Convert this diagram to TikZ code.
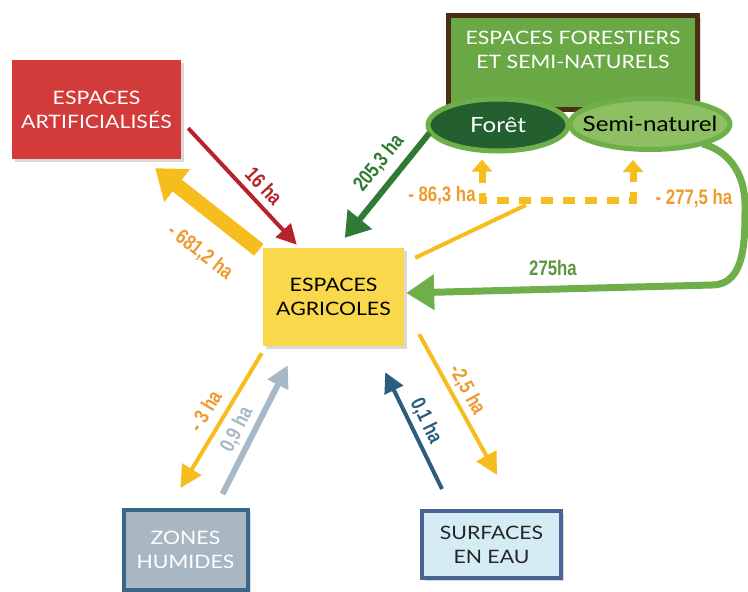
\documentclass[tikz,border=0pt]{standalone}
\usepackage{fontspec}
\setmainfont{Lato}
\newfontfamily\boxfont[FakeStretch=1.15]{Lato}
\newfontfamily\lblfont[FakeStretch=0.8]{Liberation Sans}
\usepackage{tikz}
\usetikzlibrary{positioning,arrows.meta,calc,shadows,shapes.geometric}

\definecolor{artred}{HTML}{D23B3A}
\definecolor{redflux}{HTML}{B8232B}
\definecolor{agriyellow}{HTML}{F9D84B}
\definecolor{yelflux}{HTML}{F5BD1E}
\definecolor{orangelbl}{HTML}{EE9A2E}
\definecolor{forgreen}{HTML}{69A844}
\definecolor{forbrown}{HTML}{4B2E14}
\definecolor{foretfill}{HTML}{245F30}
\definecolor{semifill}{HTML}{8EC063}
\definecolor{ringgreen}{HTML}{6EAF4A}
\definecolor{dkgreen}{HTML}{2F7A34}
\definecolor{zonegray}{HTML}{A9B7C3}
\definecolor{zoneblue}{HTML}{3A6788}
\definecolor{grayflux}{HTML}{A8B8C6}
\definecolor{blueflux}{HTML}{2B5E7E}
\definecolor{eaufill}{HTML}{D6ECF5}
\definecolor{eaublue}{HTML}{4A6491}

\begin{document}
\begin{tikzpicture}[x=1pt,y=-1pt,
    box/.style={inner sep=2pt,align=center,font=\boxfont\fontsize{18.5}{24}\selectfont,
      drop shadow={opacity=0.3,shadow xshift=3pt,shadow yshift=-3pt}},
    oval/.style={ellipse,draw=ringgreen,line width=5pt,inner sep=0pt},
    ovaltext/.style={font=\boxfont\fontsize{21}{21}\selectfont},
    flux/.style={line cap=butt,-{Triangle[length=#1,width=#1]}},
    lbl/.style={font=\lblfont\bfseries\fontsize{21}{21}\selectfont}]
  \useasboundingbox (0,0) rectangle (748,592);

  % boites
  \node[box,fill=artred,text=white,minimum width=169pt,minimum height=99pt](art) at (96.5,109.5){ESPACES\\ARTIFICIALISÉS};
  \node[box,fill=agriyellow,minimum width=141pt,minimum height=98pt](agri) at (333.5,297){ESPACES\\AGRICOLES};
  \node[box,fill=forgreen,draw=forbrown,line width=5pt,text=white,minimum width=249pt,minimum height=94pt,text depth=24pt](fores) at (573,62){ESPACES FORESTIERS\\ET SEMI-NATURELS};
  \node[oval,fill=foretfill,minimum width=140pt,minimum height=52pt,
    label={[ovaltext,text=white]center:Forêt}](fo) at (498,125){};
  \node[oval,fill=semifill,minimum width=160pt,minimum height=51pt,
    label={[ovaltext,text=black]center:Semi-naturel}](sn) at (650,124){};
  \node[box,fill=zonegray,draw=zoneblue,line width=4pt,text=white,minimum width=124pt,minimum height=80pt](zh) at (185.5,550){ZONES\\HUMIDES};
  \node[box,fill=eaufill,draw=eaublue,line width=4pt,text=black!85,minimum width=139pt,minimum height=67pt](eau) at (491.5,544.5){SURFACES\\EN EAU};

  % flux
  \draw[flux=20pt,redflux,line width=4pt] ($(art.south east)+(7,-31)$) -- ($(agri.north west)+(34,-3)$);
  \draw[yelflux,line width=15pt,line cap=butt,-{Triangle[length=28pt,width=40pt]}] ($(agri.north west)+(-4,2)$) -- ($(art.south east)+(-26,9)$);
  \draw[dkgreen,line width=6pt,line cap=butt,-{Triangle[length=24pt,width=30pt]}] ($(fo.west)+(4,8)$) -- ($(agri.north west)+(82,-10)$);
  \coordinate (jonc) at (526,205);
  \draw[yelflux,line width=4pt] ($(agri.north east)+(11,10)$) -- (jonc);
  \draw[yelflux,line width=7pt,dash pattern=on 12pt off 10pt,{Triangle[length=12pt,width=20pt]}-{Triangle[length=12pt,width=20pt]}]
    ($(fo.south)+(-16,6)$) -- (482,200) -- (633,200) -- ($(sn.south)+(-17,8)$);
  \draw[ringgreen,line width=7pt,line cap=butt,-{Triangle[length=28pt,width=34pt]}]
    ($(sn.south east)+(-6,0)$) to[out=-15,in=90] (745,205) to[out=-90,in=0] (712,285) -- ($(agri.east)+(2,-4)$);
  \draw[flux=22pt,yelflux,line width=4pt] ($(agri.south west)+(-1,7)$) -- ($(zh.north west)+(59,-20)$);
  \draw[flux=22pt,grayflux,line width=6pt] ($(zh.north)+(37,-14)$) -- ($(agri.south west)+(25,19)$);
  \draw[flux=20pt,blueflux,line width=4pt] ($(eau.north west)+(22,-20)$) -- ($(agri.south east)+(-19,26)$);
  \draw[flux=22pt,yelflux,line width=4pt] ($(agri.south east)+(15,-12)$) -- ($(eau.north east)+(-66,-34)$);

  % valeurs
  \node[lbl,text=redflux,rotate=-47](l16) at (264,186){16 ha};
  \node[lbl,text=orangelbl,rotate=-38](l681) at (200,252){- 681,2 ha};
  \node[lbl,text=dkgreen,rotate=51](l205) at (379,163){205,3 ha};
  \node[lbl,text=orangelbl](l86) at (442,196){- 86,3 ha};
  \node[lbl,text=orangelbl](l277) at (694,199){- 277,5 ha};
  \node[lbl,text=ringgreen!85!black](l275) at (553,268){275ha};
  \node[lbl,text=orangelbl,rotate=59](l3) at (205,411){- 3 ha};
  \node[lbl,text=grayflux,rotate=63](l09) at (237,430){0,9 ha};
  \node[lbl,text=blueflux,rotate=-64](l01) at (426,421){0,1 ha};
  \node[lbl,text=orangelbl,rotate=-61](l25) at (467,390){-2,5 ha};
\end{tikzpicture}
\end{document}
